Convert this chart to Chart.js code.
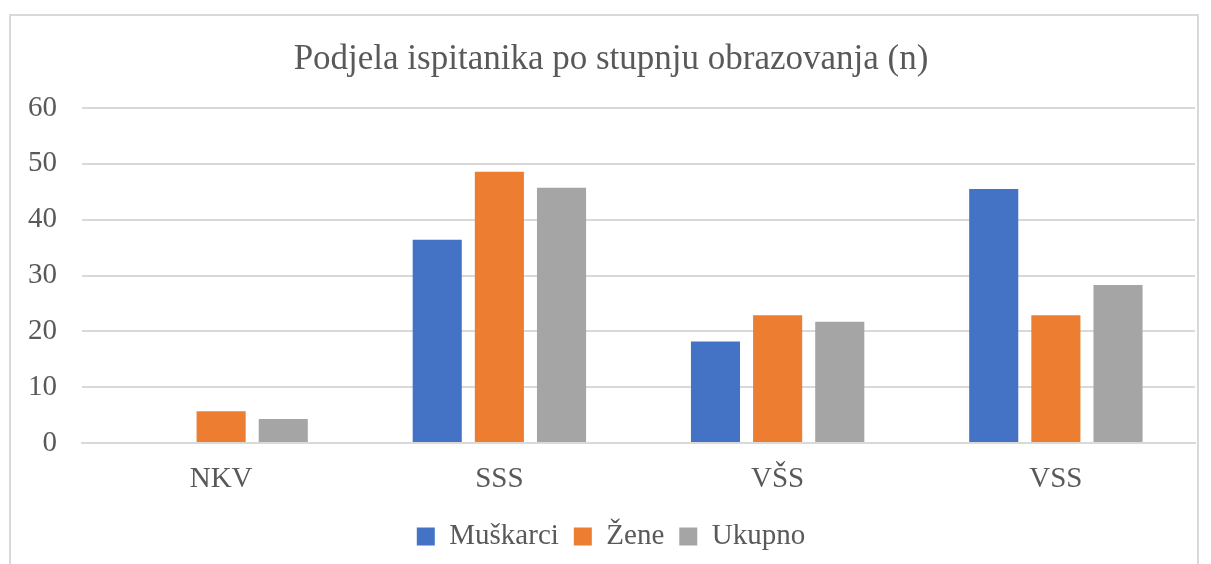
<!DOCTYPE html>
<html>
<head>
<meta charset="utf-8">
<script src="https://cdn.jsdelivr.net/npm/chart.js@4"></script>
<style>
  body { margin: 0; background: #fff; }
  #wrap { position: relative; width: 1211px; height: 564px; }
  #frame { position: absolute; left: 9px; top: 14px; width: 1190px; height: 560px; border: 2px solid #d9d9d9; box-sizing: border-box; }
  canvas { position: absolute; left: 0; top: 0; }
</style>
</head>
<body>
<div id="wrap">
  <div id="frame"></div>
  <canvas id="chart" width="1211" height="564"></canvas>
</div>
<script>
'use strict';

var categories = ['NKV', 'SSS', 'VŠS', 'VSS'];
var muskarci = [0, 36.4, 18.2, 45.5];
var zene = [5.7, 48.6, 22.9, 22.9];
var ukupno = [4.3, 45.7, 21.7, 28.3];
var yTicks = [0, 10, 20, 30, 40, 50, 60];

var ctx = document.getElementById('chart').getContext('2d');
var font = "'Liberation Serif', 'Times New Roman', serif";
var textColor = '#595959';

function makeSet(label, data, color) {
  return {
    label: label,
    data: data,
    backgroundColor: color,
    borderWidth: 0,
    barPercentage: 0.79,
    categoryPercentage: 0.67
  };
}

var chart = new Chart(ctx, {
  type: 'bar',
  data: {
    labels: categories,
    datasets: [
      makeSet('Muškarci', muskarci, '#4472c4'),
      makeSet('Žene', zene, '#ed7d31'),
      makeSet('Ukupno', ukupno, '#a5a5a5')
    ]
  },
  options: {
    responsive: false,
    animation: false,
    layout: { padding: { left: 27, right: 16, top: 22, bottom: 3 } },
    plugins: {
      title: {
        display: true,
        text: 'Podjela ispitanika po stupnju obrazovanja (n)',
        color: textColor,
        font: { family: font, size: 35, weight: 'normal' },
        padding: { top: 17, bottom: 27 }
      },
      legend: {
        position: 'bottom',
        labels: {
          color: textColor,
          font: { family: font, size: 29 },
          boxWidth: 18,
          boxHeight: 18,
          padding: 15
        }
      },
      tooltip: { enabled: false }
    },
    scales: {
      x: {
        grid: { display: false },
        border: { color: '#d9d9d9', width: 2 },
        ticks: { color: textColor, font: { family: font, size: 29 }, padding: 11 },
        afterFit: function (axis) { axis.height = 64; }
      },
      y: {
        min: 0,
        max: 60,
        afterBuildTicks: function (axis) {
          axis.ticks = yTicks.map(function (v) { return { value: v }; });
        },
        grid: { color: '#d9d9d9', lineWidth: 2, drawTicks: false },
        border: { display: false },
        ticks: { color: textColor, font: { family: font, size: 29 }, padding: 25 },
        afterFit: function (axis) { axis.width = 55; }
      }
    }
  }
});
</script>
</body>
</html>
